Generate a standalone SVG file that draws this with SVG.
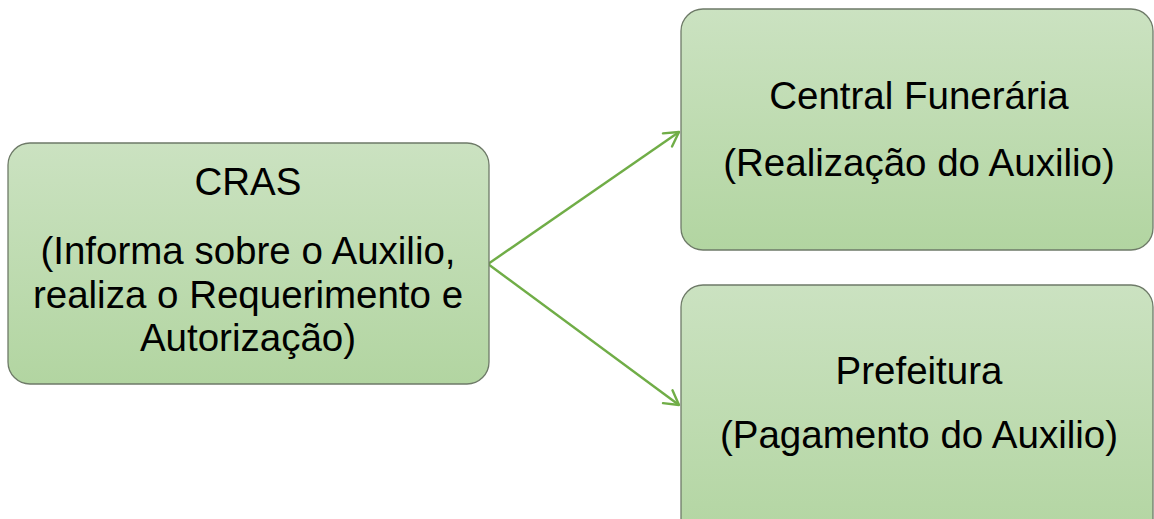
<svg xmlns="http://www.w3.org/2000/svg" width="1154" height="519" viewBox="0 0 1154 519">
<defs>
<linearGradient id="g" x1="0" y1="0" x2="0" y2="1">
<stop offset="0" stop-color="#cbe2c1"/>
<stop offset="1" stop-color="#b2d5a1"/>
</linearGradient>
<marker id="arr" viewBox="0 0 20 20" refX="18" refY="10" markerWidth="20" markerHeight="20" markerUnits="userSpaceOnUse" orient="auto">
<path d="M4,2 L18,10 L4,18" fill="none" stroke="#70ad47" stroke-width="2.4" stroke-linecap="round" stroke-linejoin="round"/>
</marker>
<style>
.box{fill:url(#g);stroke:#6e7a68;stroke-width:1.3}
.t{font-family:"Liberation Sans",Arial,sans-serif;font-size:38.5px;fill:#000;text-anchor:middle}
.c{fill:none;stroke:#70ad47;stroke-width:2.4}
</style>
</defs>
<rect width="1154" height="519" fill="#fff"/>
<g id="connectors">
<line class="c" x1="488" y1="264" x2="679" y2="132" marker-end="url(#arr)"/>
<line class="c" x1="488" y1="264" x2="679" y2="405" marker-end="url(#arr)"/>
</g>
<g id="cras">
<rect class="box" x="8" y="143" width="481" height="241" rx="22"/>
<text class="t" x="248" y="195">CRAS</text>
<text class="t" x="248" y="264">(Informa sobre o Auxilio,</text>
<text class="t" x="248" y="308">realiza o Requerimento e</text>
<text class="t" x="248" y="351">Autorização)</text>
</g>
<g id="central">
<rect class="box" x="681" y="9" width="472" height="241" rx="22"/>
<text class="t" x="919" y="109">Central Funerária</text>
<text class="t" x="919" y="176">(Realização do Auxilio)</text>
</g>
<g id="prefeitura">
<rect class="box" x="681" y="285" width="472" height="260" rx="22"/>
<text class="t" x="919" y="384">Prefeitura</text>
<text class="t" x="919" y="448">(Pagamento do Auxilio)</text>
</g>
</svg>
